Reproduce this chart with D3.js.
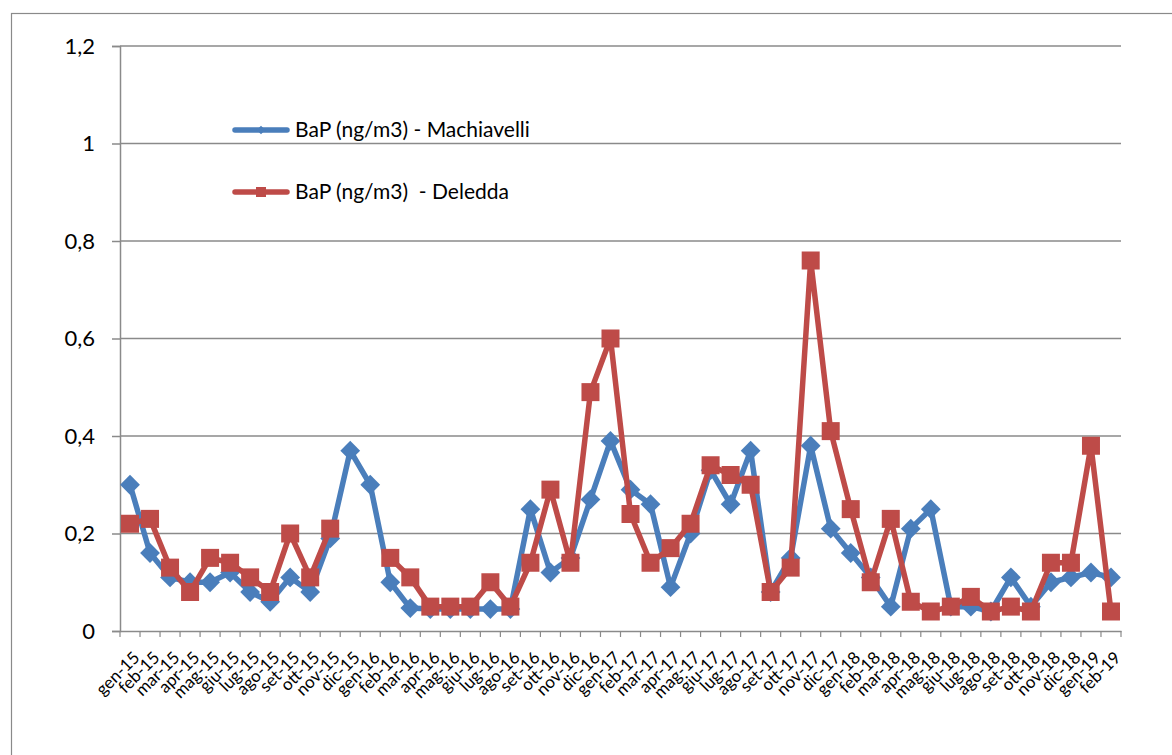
<!DOCTYPE html>
<html><head><meta charset="utf-8">
<script src="https://cdn.jsdelivr.net/npm/d3@7"></script>
<style>
html,body{margin:0;padding:0;background:#fff;}
svg{display:block;font-family:Lato,"Open Sans",sans-serif;}
</style></head>
<body>
<svg id="chart" width="1172" height="755"></svg>
<script>
const months = ["gen-15","feb-15","mar-15","apr-15","mag-15","giu-15","lug-15","ago-15","set-15","ott-15","nov-15","dic-15",
"gen-16","feb-16","mar-16","apr-16","mag-16","giu-16","lug-16","ago-16","set-16","ott-16","nov-16","dic-16",
"gen-17","feb-17","mar-17","apr-17","mag-17","giu-17","lug-17","ago-17","set-17","ott-17","nov-17","dic-17",
"gen-18","feb-18","mar-18","apr-18","mag-18","giu-18","lug-18","ago-18","set-18","ott-18","nov-18","dic-18",
"gen-19","feb-19"];
const machiavelli = [0.30,0.16,0.11,0.10,0.10,0.12,0.08,0.06,0.11,0.08,0.19,0.37,
0.30,0.10,0.047,0.045,0.045,0.045,0.045,0.045,0.25,0.12,0.15,0.27,
0.39,0.29,0.26,0.09,0.20,0.33,0.26,0.37,0.08,0.15,0.38,0.21,
0.16,0.11,0.05,0.21,0.25,0.05,0.05,0.04,0.11,0.05,0.10,0.11,
0.12,0.11];
const deledda = [0.22,0.23,0.13,0.08,0.15,0.14,0.11,0.08,0.20,0.11,0.21,null,
null,0.15,0.11,0.05,0.05,0.05,0.10,0.05,0.14,0.29,0.14,0.49,
0.60,0.24,0.14,0.17,0.22,0.34,0.32,0.30,0.08,0.13,0.76,0.41,
0.25,0.10,0.23,0.06,0.04,0.05,0.07,0.04,0.05,0.04,0.14,0.14,
0.38,0.04];
const yTicks = [0,0.2,0.4,0.6,0.8,1,1.2];
const seriesNames = ["BaP (ng/m3) - Machiavelli","BaP (ng/m3)  - Deledda"];

const svg = d3.select("#chart");
const L = 120, R = 1121, T = 46, B = 631;
const blue = "#4A7EBB", red = "#BE4B48", grid = "#8a8a8a";

// outer frame
svg.append("rect").attr("x",11.5).attr("y",13.5).attr("width",1200).attr("height",800)
  .attr("fill","none").attr("stroke","#8a8a8a").attr("stroke-width",1.2);

const x = d3.scaleBand().domain(months).range([L,R]);
const y = d3.scaleLinear().domain([0,1.2]).range([B,T]);
const fmt = v => String(+v.toFixed(1)).replace(".",",");

// gridlines
svg.append("g").selectAll("line").data(yTicks.filter(d=>d>0)).join("line")
  .attr("x1",L).attr("x2",R).attr("y1",d=>y(d)).attr("y2",d=>y(d))
  .attr("stroke",grid).attr("stroke-width",1.5);

// y axis
const yAxis = svg.append("g").attr("transform",`translate(${L},0)`)
  .call(d3.axisLeft(y).tickValues(yTicks).tickFormat(fmt).tickSize(8).tickPadding(17));
yAxis.select(".domain").attr("stroke",grid).attr("stroke-width",1.5);
yAxis.selectAll(".tick line").attr("stroke",grid).attr("stroke-width",1.5);
yAxis.selectAll(".tick text").attr("font-size",22).attr("fill","#000").attr("font-family","Lato, sans-serif");

// x axis
const xAxis = svg.append("g").attr("transform",`translate(0,${B})`)
  .call(d3.axisBottom(x).tickSize(0).tickFormat(d=>d));
xAxis.select(".domain").attr("stroke",grid).attr("stroke-width",1.5);
xAxis.selectAll(".tick text").attr("font-size",17).attr("fill","#000")
  .attr("font-family","Lato, sans-serif")
  .attr("text-anchor","end").attr("y",0).attr("dy","0.72em")
  .attr("transform","translate(2,19) rotate(-45)");
// boundary ticks
svg.append("g").selectAll("line").data(d3.range(months.length+1)).join("line")
  .attr("x1",i=>L + i*x.step()).attr("x2",i=>L + i*x.step())
  .attr("y1",B).attr("y2",B+6).attr("stroke",grid).attr("stroke-width",1.2);

const cx = d => x(d) + x.bandwidth()/2;

function drawSeries(vals,color,shape){
  const pts = months.map((m,i)=>({m,v:vals[i]}));
  const line = d3.line().defined(d=>d.v!=null).x(d=>cx(d.m)).y(d=>y(d.v));
  svg.append("path").datum(pts).attr("d",line).attr("fill","none")
    .attr("stroke",color).attr("stroke-width",5.5).attr("stroke-linejoin","round").attr("stroke-linecap","round");
  const g = svg.append("g");
  pts.filter(d=>d.v!=null).forEach(d=>{
    if(shape==="diamond"){
      g.append("rect").attr("x",-7).attr("y",-7).attr("width",14).attr("height",14)
        .attr("transform",`translate(${cx(d.m)},${y(d.v)}) rotate(45)`).attr("fill",color);
    } else {
      g.append("rect").attr("x",cx(d.m)-9).attr("y",y(d.v)-9).attr("width",18).attr("height",18)
        .attr("fill",color);
    }
  });
}
drawSeries(machiavelli,blue,"diamond");
drawSeries(deledda,red,"square");

// legend
const leg = svg.append("g");
[[seriesNames[0],blue,130,"diamond"],[seriesNames[1],red,192,"square"]].forEach(([t,c,ly,s])=>{
  leg.append("line").attr("x1",235).attr("x2",287).attr("y1",ly).attr("y2",ly)
    .attr("stroke",c).attr("stroke-width",5.5).attr("stroke-linecap","round");
  if(s==="diamond"){
    leg.append("rect").attr("x",-3).attr("y",-3).attr("width",6).attr("height",6)
      .attr("transform",`translate(261,${ly}) rotate(45)`).attr("fill",c);
  } else {
    leg.append("rect").attr("x",256).attr("y",ly-5).attr("width",10).attr("height",10).attr("fill",c);
  }
  leg.append("text").attr("x",295).attr("y",ly+7).attr("font-size",21).attr("fill","#000")
    .attr("font-family","Lato, sans-serif").style("white-space","pre").text(t);
});
</script>
</body></html>
